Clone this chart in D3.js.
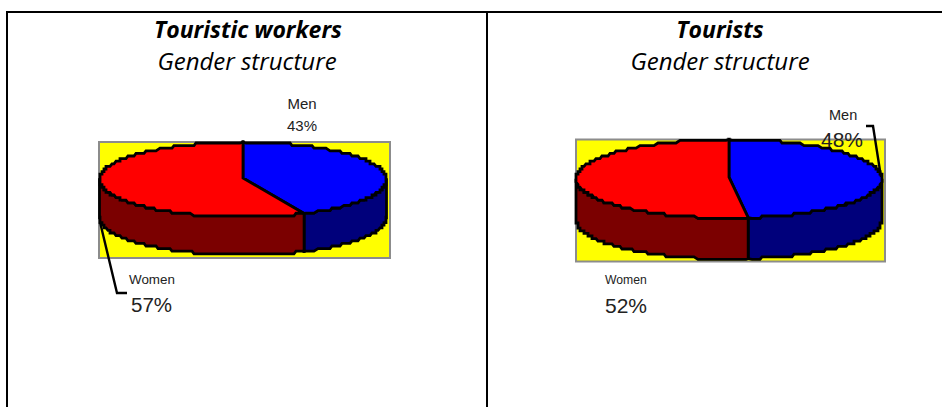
<!DOCTYPE html>
<html><head><meta charset="utf-8">
<script src="https://cdn.jsdelivr.net/npm/d3@7"></script>
<style>
html,body{margin:0;padding:0;background:#fff;overflow:hidden}
svg{display:block}
.t{font-family:"Open Sans",sans-serif;font-style:italic;text-anchor:middle;fill:#000}
.l{font-family:"Liberation Sans",Arial,sans-serif;fill:#222}
</style></head><body>
<script>
// ---- data ----
const titles = ["Touristic workers", "Tourists"];
const subtitles = ["Gender structure", "Gender structure"];
const categories = ["Men", "Women"];
const workersValues = [43, 57];
const touristsValues = [48, 52];
const topColors = ["#0000ff", "#ff0000"];
const sideColors = ["#00007b", "#7b0000"];

// ---- layout ----
const panels = [
  {values: workersValues, tx: 248, box: [99, 142, 390, 258], c: [243, 179.5], rx: 143.5, ry: 37.5, h: 38,
   labels: [
    {x: 302, y: 109, size: 15, text: 0, pct: {x: 302, y: 131, size: 15}, anchor: "middle"},
    {x: 129, y: 284, size: 13.4, text: 1, pct: {x: 131, y: 312, size: 20.5}, anchor: "start"}],
   leaders: [[[100, 222], [117, 293], [127, 293]]]},
  {values: touristsValues, tx: 720, box: [576, 139.5, 885, 261.5], c: [729, 178.7], rx: 153, ry: 39.3, h: 41,
   labels: [
    {x: 829, y: 120, size: 14.5, text: 0, pct: {x: 821, y: 147, size: 21}, anchor: "start"},
    {x: 605, y: 284, size: 12.2, text: 1, pct: {x: 605, y: 313, size: 21}, anchor: "start"}],
   leaders: [[[866, 126], [873, 126], [881, 177]]]}
];

const svg = d3.select("body").append("svg").attr("width", 942).attr("height", 407);

// page table rules
const rules = [[6, 12, 942, 12], [7, 11, 7, 407], [487, 12, 487, 407]];
svg.selectAll("line.r").data(rules).join("line").attr("class", "r")
  .attr("x1", d => d[0]).attr("y1", d => d[1]).attr("x2", d => d[2]).attr("y2", d => d[3])
  .attr("stroke", "#000").attr("stroke-width", 2);

const snap = (v, s) => Math.round(v / s) * s;

panels.forEach((p, i) => {
  const g = svg.append("g");
  g.append("text").attr("class", "t").attr("x", p.tx).attr("y", 38).attr("font-weight", 700)
    .attr("font-size", 23).text(titles[i]);
  g.append("text").attr("class", "t").attr("x", p.tx - (i ? 0 : 1)).attr("y", 70)
    .attr("font-size", 24).text(subtitles[i]);

  const [x0, y0, x1, y1] = p.box;
  g.append("rect").attr("x", x0).attr("y", y0).attr("width", x1 - x0).attr("height", y1 - y0)
    .attr("fill", "#ffff00").attr("stroke", "#8c8c8c").attr("stroke-width", 2);

  const arcs = d3.pie().sort(null).value(d => d)(p.values);
  const [cx, cy] = p.c;
  const px = d3.scaleLinear().domain([-1, 1]).range([cx - p.rx, cx + p.rx]);
  const py = d3.scaleLinear().domain([-1, 1]).range([cy - p.ry, cy + p.ry]);
  // finely stepped rim, as in the low-resolution original
  const rim = (a0, a1, dy) => {
    const n = Math.max(2, Math.ceil(Math.abs(a1 - a0) * p.rx / 3));
    return d3.range(n + 1).map(k => {
      const a = a0 + (a1 - a0) * k / n;
      const edge = k === 0 || k === n;
      const x = px(Math.sin(a)), y = py(-Math.cos(a));
      return edge ? [x, y + dy] : [snap(x, 2), snap(y, 2.6) + dy];
    });
  };
  const line = d3.line();
  const style = (s, fill) => s.attr("fill", fill).attr("stroke", "#000").attr("stroke-width", 2.8)
    .attr("stroke-linejoin", "miter");

  // walls (visible front half only)
  arcs.forEach((a, k) => {
    const s = Math.max(a.startAngle, Math.PI / 2), e = Math.min(a.endAngle, 3 * Math.PI / 2);
    if (e <= s) return;
    const pts = rim(s, e, 0).concat(rim(e, s, p.h));
    style(g.append("path").attr("d", line(pts) + "Z"), sideColors[k]);
  });
  // top
  arcs.forEach((a, k) => {
    const pts = [[px(0), py(0) - 1.5]].concat(rim(a.startAngle, a.endAngle, 0));
    style(g.append("path").attr("d", line(pts) + "Z"), topColors[k]);
  });

  // leaders
  p.leaders.forEach(l => g.append("path").attr("d", line(l)).attr("fill", "none")
    .attr("stroke", "#000").attr("stroke-width", 2.4));

  // labels
  p.labels.forEach(l => {
    g.append("text").attr("class", "l").attr("x", l.x).attr("y", l.y).attr("font-size", l.size)
      .attr("text-anchor", l.anchor).text(categories[l.text]);
    g.append("text").attr("class", "l").attr("x", l.pct.x).attr("y", l.pct.y).attr("font-size", l.pct.size)
      .attr("text-anchor", l.anchor).text(p.values[l.text] + "%");
  });
});
</script>
</body></html>
